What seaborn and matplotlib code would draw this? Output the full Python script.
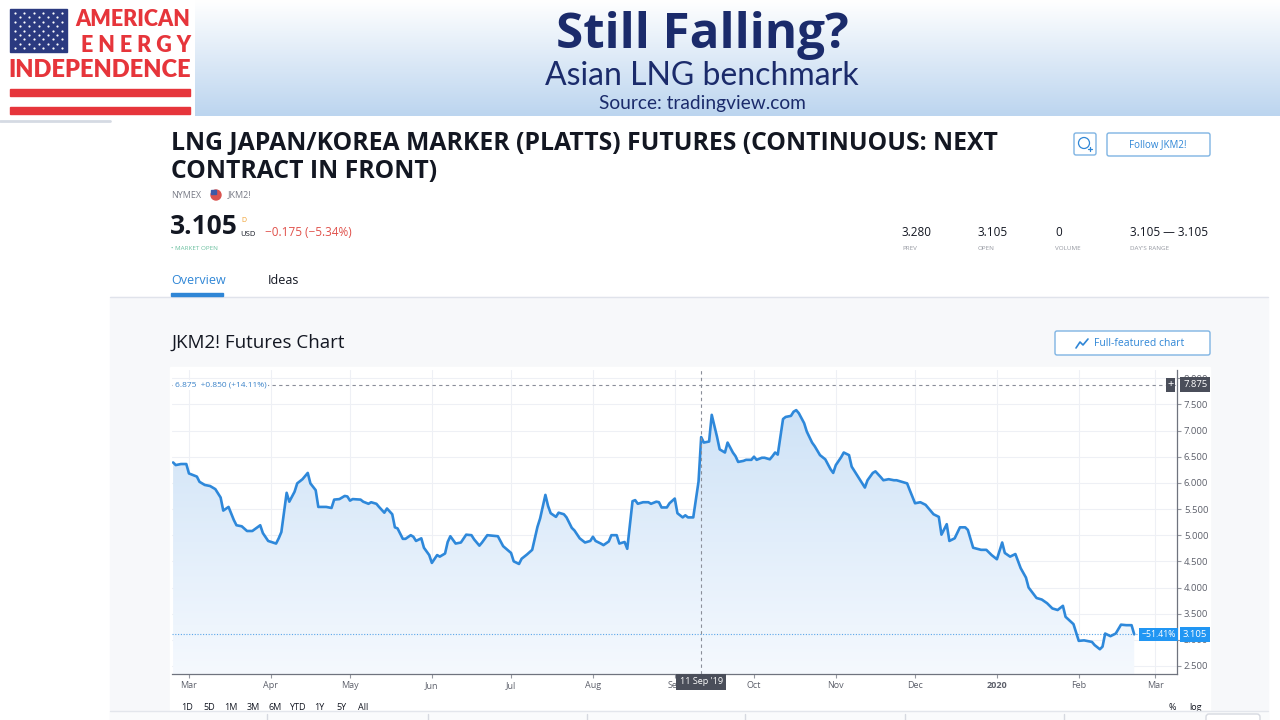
import numpy as np
import pandas as pd
import matplotlib
matplotlib.use("Agg")
import matplotlib.pyplot as plt
import matplotlib.dates as mdates
import matplotlib.patches as mpatches
from matplotlib.colors import LinearSegmentedColormap
import seaborn as sns

# JKM2! daily closes
dates = [
  "2019-02-23", "2019-02-24", "2019-02-26", "2019-02-28", "2019-03-01", "2019-03-04", "2019-03-05",
  "2019-03-07", "2019-03-09", "2019-03-11", "2019-03-13", "2019-03-14", "2019-03-16", "2019-03-18",
  "2019-03-19", "2019-03-21", "2019-03-23", "2019-03-25", "2019-03-28", "2019-03-29", "2019-03-31",
  "2019-04-03", "2019-04-04", "2019-04-05", "2019-04-07", "2019-04-08", "2019-04-10", "2019-04-11",
  "2019-04-13", "2019-04-15", "2019-04-16", "2019-04-18", "2019-04-19", "2019-04-22", "2019-04-24",
  "2019-04-25", "2019-04-27", "2019-04-29", "2019-04-30", "2019-05-01", "2019-05-02", "2019-05-05",
  "2019-05-06", "2019-05-08", "2019-05-09", "2019-05-11", "2019-05-12", "2019-05-14", "2019-05-15",
  "2019-05-17", "2019-05-18", "2019-05-19", "2019-05-21", "2019-05-22", "2019-05-24", "2019-05-25",
  "2019-05-26", "2019-05-28", "2019-05-29", "2019-05-31", "2019-06-01", "2019-06-03", "2019-06-04",
  "2019-06-06", "2019-06-07", "2019-06-08", "2019-06-10", "2019-06-12", "2019-06-14", "2019-06-16",
  "2019-06-17", "2019-06-19", "2019-06-20", "2019-06-22", "2019-06-24", "2019-06-26", "2019-06-28",
  "2019-07-01", "2019-07-02", "2019-07-04", "2019-07-05", "2019-07-07", "2019-07-09", "2019-07-11",
  "2019-07-12", "2019-07-14", "2019-07-15", "2019-07-16", "2019-07-18", "2019-07-19", "2019-07-21",
  "2019-07-22", "2019-07-24", "2019-07-25", "2019-07-27", "2019-07-29", "2019-07-31", "2019-08-01",
  "2019-08-02", "2019-08-04", "2019-08-05", "2019-08-07", "2019-08-08", "2019-08-10", "2019-08-11",
  "2019-08-13", "2019-08-14", "2019-08-16", "2019-08-17", "2019-08-18", "2019-08-20", "2019-08-22",
  "2019-08-23", "2019-08-25", "2019-08-26", "2019-08-27", "2019-08-29", "2019-08-30", "2019-09-01",
  "2019-09-02", "2019-09-04", "2019-09-05", "2019-09-06", "2019-09-08", "2019-09-10", "2019-09-11",
  "2019-09-12", "2019-09-14", "2019-09-15", "2019-09-17", "2019-09-18", "2019-09-20", "2019-09-21",
  "2019-09-23", "2019-09-24", "2019-09-25", "2019-09-27", "2019-09-28", "2019-09-30", "2019-10-01",
  "2019-10-02", "2019-10-04", "2019-10-05", "2019-10-07", "2019-10-08", "2019-10-09", "2019-10-10",
  "2019-10-12", "2019-10-13", "2019-10-15", "2019-10-16", "2019-10-17", "2019-10-18", "2019-10-20",
  "2019-10-21", "2019-10-23", "2019-10-24", "2019-10-26", "2019-10-27", "2019-10-28", "2019-10-30",
  "2019-10-31", "2019-11-01", "2019-11-03", "2019-11-04", "2019-11-06", "2019-11-07", "2019-11-09",
  "2019-11-12", "2019-11-13", "2019-11-15", "2019-11-16", "2019-11-18", "2019-11-19", "2019-11-21",
  "2019-11-23", "2019-11-24", "2019-11-26", "2019-11-28", "2019-11-29", "2019-12-01", "2019-12-03",
  "2019-12-05", "2019-12-07", "2019-12-08", "2019-12-10", "2019-12-11", "2019-12-13", "2019-12-14",
  "2019-12-16", "2019-12-18", "2019-12-20", "2019-12-21", "2019-12-23", "2019-12-26", "2019-12-28",
  "2019-12-30", "2020-01-01", "2020-01-03", "2020-01-04", "2020-01-06", "2020-01-08", "2020-01-10",
  "2020-01-12", "2020-01-13", "2020-01-16", "2020-01-18", "2020-01-20", "2020-01-22", "2020-01-24",
  "2020-01-26", "2020-01-27", "2020-01-30", "2020-02-01", "2020-02-03", "2020-02-06", "2020-02-07",
  "2020-02-09", "2020-02-10", "2020-02-11", "2020-02-13", "2020-02-15", "2020-02-17", "2020-02-19",
  "2020-02-21", "2020-02-22",
]
prices = [
  6.39, 6.34, 6.36, 6.36, 6.18, 6.12, 6.02,
  5.96, 5.94, 5.88, 5.72, 5.47, 5.54, 5.29,
  5.19, 5.17, 5.08, 5.08, 5.19, 5.04, 4.89,
  4.84, 4.94, 5.06, 5.81, 5.64, 5.83, 5.99,
  6.07, 6.19, 5.99, 5.86, 5.54, 5.54, 5.52,
  5.68, 5.69, 5.75, 5.74, 5.66, 5.69, 5.68,
  5.64, 5.60, 5.63, 5.60, 5.54, 5.43, 5.51,
  5.40, 5.15, 5.13, 4.93, 4.93, 5.00, 4.97,
  4.89, 4.94, 4.76, 4.62, 4.47, 4.62, 4.59,
  4.65, 4.87, 4.98, 4.84, 4.86, 5.01, 5.00,
  4.92, 4.80, 4.86, 5.00, 4.99, 4.98, 4.79,
  4.66, 4.50, 4.45, 4.55, 4.63, 4.72, 5.16,
  5.32, 5.77, 5.56, 5.42, 5.35, 5.43, 5.40,
  5.34, 5.14, 5.09, 4.94, 4.86, 4.89, 4.97,
  4.89, 4.84, 4.81, 4.88, 5.00, 5.00, 4.84,
  4.87, 4.74, 5.65, 5.67, 5.60, 5.63, 5.63,
  5.60, 5.64, 5.63, 5.53, 5.53, 5.61, 5.70,
  5.42, 5.34, 5.38, 5.34, 5.34, 6.025, 6.875,
  6.77, 6.79, 7.30, 6.88, 6.64, 6.58, 6.77,
  6.58, 6.51, 6.40, 6.42, 6.44, 6.44, 6.50,
  6.44, 6.48, 6.48, 6.45, 6.51, 6.58, 6.54,
  7.22, 7.26, 7.28, 7.36, 7.39, 7.33, 7.14,
  6.98, 6.77, 6.70, 6.53, 6.49, 6.45, 6.26,
  6.19, 6.34, 6.49, 6.58, 6.53, 6.31, 6.15,
  5.91, 6.05, 6.19, 6.22, 6.11, 6.05, 6.07,
  6.05, 6.05, 6.02, 5.99, 5.86, 5.61, 5.63,
  5.58, 5.46, 5.40, 5.35, 5.01, 5.21, 4.89,
  4.94, 5.15, 5.15, 5.10, 4.76, 4.72, 4.72,
  4.62, 4.54, 4.86, 4.66, 4.59, 4.64, 4.37,
  4.19, 4.00, 3.80, 3.77, 3.70, 3.60, 3.57,
  3.65, 3.44, 3.30, 2.98, 2.99, 2.96, 2.90,
  2.82, 2.87, 3.12, 3.07, 3.12, 3.29, 3.28,
  3.28, 3.105,
]

month_ticks = ["2019-03-01", "2019-04-01", "2019-05-01", "2019-06-01", "2019-07-01", "2019-08-01",
               "2019-09-01", "2019-10-01", "2019-11-01", "2019-12-01", "2020-01-01", "2020-02-01",
               "2020-03-01"]
month_labels = ["Mar", "Apr", "May", "Jun", "Jul", "Aug", "Sep", "Oct", "Nov", "Dec", "2020", "Feb", "Mar"]
price_ticks = [2.5, 3.0, 3.5, 4.0, 4.5, 5.0, 5.5, 6.0, 6.5, 7.0, 7.5, 8.0]

cross_date = "2019-09-11"
cross_level = 7.875
last_price = 3.105
legend_text = "6.875  +0.850 (+14.11%)"
change_pct = "\u221251.41%"

stats_values = ["3.280", "3.105", "0", "3.105 \u2014 3.105"]
stats_labels = ["PREV", "OPEN", "VOLUME", "DAY'S RANGE"]
range_buttons = ["1D", "5D", "1M", "3M", "6M", "YTD", "1Y", "5Y", "All"]

df = pd.DataFrame({"date": pd.to_datetime(dates), "price": prices})

sns.set_theme(style="white")
plt.rcParams["font.family"] = ["Open Sans", "DejaVu Sans"]

BLUE = "#2f86d6"
DARK = "#131722"
GREY = "#787b86"
NAVY = "#1b2b6b"
RED = "#e6353b"
LOGO_FONT = ["Lato", "DejaVu Sans"]

fig = plt.figure(figsize=(12.8, 7.2), dpi=100)

# page layer in pixel coordinates
bg = fig.add_axes([0, 0, 1, 1])
bg.set_xlim(0, 1280)
bg.set_ylim(720, 0)
bg.axis("off")

grad = np.linspace(0, 1, 200).reshape(-1, 1)
banner_cmap = LinearSegmentedColormap.from_list("banner", ["#ffffff", "#bcd5ef"])
bg.imshow(grad, extent=(195, 1280, 116, 0), cmap=banner_cmap, aspect="auto", zorder=0)

# logo
bg.add_patch(mpatches.Rectangle((10, 9), 57, 43, color="#2b3a80", zorder=2))
sx, sy = np.meshgrid(np.linspace(15, 62, 6), np.linspace(13, 48, 5))
bg.scatter(sx.ravel(), sy.ravel(), s=2.5, color="white", zorder=3, linewidths=0)
sx2, sy2 = np.meshgrid(np.linspace(19.7, 57.3, 5), np.linspace(17.4, 43.6, 4))
bg.scatter(sx2.ravel(), sy2.ravel(), s=2.5, color="white", zorder=3, linewidths=0)
bg.text(190, 19, "AMERICAN", ha="right", va="center", color=RED, fontsize=15.5,
        fontweight="heavy", family=LOGO_FONT, zorder=3)
bg.text(191, 45, "E N E R G Y", ha="right", va="center", color=RED, fontsize=15.5,
        fontweight="heavy", family=LOGO_FONT, zorder=3)
bg.text(100, 70, "INDEPENDENCE", ha="center", va="center", color=RED, fontsize=17,
        fontweight="heavy", family=LOGO_FONT, zorder=3)
bg.add_patch(mpatches.Rectangle((10, 89), 180, 7, color=RED, zorder=2))
bg.add_patch(mpatches.Rectangle((10, 107), 180, 7, color=RED, zorder=2))
bg.plot([0, 110], [121, 121], color="#d5dae3", lw=2, zorder=2)

# banner titles
bg.text(702, 35, "Still Falling?", ha="center", va="center", color=NAVY, fontsize=35.5,
        fontweight="bold", family=["Open Sans", "DejaVu Sans"], zorder=3)
bg.text(702, 76, "Asian LNG benchmark", ha="center", va="center", color=NAVY, fontsize=23,
        family=LOGO_FONT, zorder=3)
bg.text(702, 103, "Source: tradingview.com", ha="center", va="center", color=NAVY, fontsize=13.8,
        family=LOGO_FONT, zorder=3)

# symbol header
bg.text(171, 143, "LNG JAPAN/KOREA MARKER (PLATTS) FUTURES (CONTINUOUS: NEXT", ha="left", va="center",
        color=DARK, fontsize=17.8, fontweight="bold", zorder=3)
bg.text(171, 171, "CONTRACT IN FRONT)", ha="left", va="center", color=DARK, fontsize=17.8,
        fontweight="bold", zorder=3)
bg.text(171, 195, "NYMEX", ha="left", va="center", color=GREY, fontsize=6.5, zorder=3)
bg.add_patch(mpatches.Circle((216, 195), 5, color="#d9534f", zorder=3))
bg.add_patch(mpatches.Rectangle((211, 190), 5, 4, color="#3b5aa8", zorder=4))
bg.text(228, 195, "JKM2!", ha="left", va="center", color=GREY, fontsize=6.5, zorder=3)
bg.text(170, 227, "3.105", ha="left", va="center", color=DARK, fontsize=19, fontweight="bold", zorder=3)
bg.text(241, 220, "D", ha="left", va="center", color="#f0a030", fontsize=5, zorder=3)
bg.text(240, 234, "USD", ha="left", va="center", color=DARK, fontsize=5.5, zorder=3)
bg.text(265, 233, "\u22120.175 (\u22125.34%)", ha="left", va="center", color="#e0504a", fontsize=8.5, zorder=3)
bg.text(171, 248, "\u2022 MARKET OPEN", ha="left", va="center", color="#6cc0a0", fontsize=4.5, zorder=3)
for xv, val, lab in zip([902, 978, 1055, 1130], stats_values, stats_labels):
  bg.text(xv, 232, val, ha="left", va="center", color=DARK, fontsize=8.5, zorder=3)
  bg.text(xv, 248, lab, ha="left", va="center", color="#9598a1", fontsize=4.5, zorder=3)

# alert button (clock icon drawn as shapes)
bg.add_patch(mpatches.FancyBboxPatch((1074, 133), 22, 22, boxstyle="round,pad=0,rounding_size=2",
                                     fc="white", ec="#7fb4e3", lw=1, zorder=3))
bg.add_patch(mpatches.Circle((1084, 143), 5.5, fc="none", ec=BLUE, lw=0.9, zorder=4))
bg.plot([1088, 1092], [149, 149], color=BLUE, lw=0.9, zorder=5)
bg.plot([1090, 1090], [147, 151], color=BLUE, lw=0.9, zorder=5)
bg.add_patch(mpatches.FancyBboxPatch((1107, 133), 103, 23, boxstyle="round,pad=0,rounding_size=2",
                                     fc="white", ec="#7fb4e3", lw=1, zorder=3))
bg.text(1158, 145, "Follow JKM2!", ha="center", va="center", color=BLUE, fontsize=7, zorder=4)

bg.text(171, 280, "Overview", ha="left", va="center", color=BLUE, fontsize=9, zorder=3)
bg.text(268, 280, "Ideas", ha="left", va="center", color=DARK, fontsize=9, zorder=3)
bg.add_patch(mpatches.Rectangle((171, 293), 52, 3, color=BLUE, zorder=4))

# chart section
bg.add_patch(mpatches.Rectangle((110, 297), 1158, 423, color="#f7f8fa", zorder=1))
bg.plot([110, 1268], [297, 297], color="#e0e3eb", lw=1, zorder=2)
bg.text(171, 343, "JKM2! Futures Chart", ha="left", va="center", color=DARK, fontsize=13.5, zorder=3)
bg.add_patch(mpatches.FancyBboxPatch((1055, 331), 155, 24, boxstyle="round,pad=0,rounding_size=2",
                                     fc="white", ec="#7fb4e3", lw=1, zorder=3))
bg.plot([1076, 1080, 1083, 1088], [348, 342, 345, 339], color=BLUE, lw=1.2, zorder=4)
bg.text(1094, 343, "Full-featured chart", ha="left", va="center", color=BLUE, fontsize=7.5, zorder=4)
bg.add_patch(mpatches.Rectangle((170, 367), 1040, 344, color="white", zorder=2))
for xv, lab in zip(np.linspace(187, 363, len(range_buttons)), range_buttons):
  bg.text(xv, 708, lab, ha="center", va="center", color=DARK, fontsize=6.5, zorder=3)
bg.text(1172, 707, "%", ha="center", va="center", color=DARK, fontsize=6.5, zorder=3)
bg.text(1196, 708, "log", ha="center", va="center", color=DARK, fontsize=6.5, zorder=3)
bg.add_patch(mpatches.Rectangle((110, 711), 1158, 9, color="#fafbfc", zorder=5))
bg.plot([110, 1268], [711, 711], color="#e3e6ec", lw=1, zorder=6)
for xv in [267, 428, 587, 745, 905, 1064]:
  bg.plot([xv, xv], [714, 720], color="#d6d9e0", lw=1, zorder=6)
bg.add_patch(mpatches.FancyBboxPatch((1206, 714), 54, 12, boxstyle="round,pad=0,rounding_size=3",
                                     fc="white", ec="#d6d9e0", lw=1, zorder=6))

# price chart
ax = fig.add_axes([172 / 1280, 1 - 674 / 720, 1005 / 1280, 304 / 720])
ax.set_facecolor("white")
ymin, ymax = 2.347, 8.157
xmin, xmax = pd.Timestamp("2019-02-22 14:00"), pd.Timestamp("2020-03-09 05:00")

poly = ax.fill_between(df["date"], df["price"], ymin, color="none", lw=0)
fill_cmap = LinearSegmentedColormap.from_list("fill", ["#f5f9fe", "#cfe3f7"])
im = ax.imshow(grad, extent=(mdates.date2num(xmin), mdates.date2num(xmax), ymin, df["price"].max()),
               origin="lower", aspect="auto", cmap=fill_cmap, zorder=1)
im.set_clip_path(poly.get_paths()[0], transform=ax.transData)

sns.lineplot(data=df, x="date", y="price", ax=ax, color="#2e88da", linewidth=1.9, zorder=3)

ax.set_xlim(xmin, xmax)
ax.set_ylim(ymin, ymax)
ax.set_xticks(pd.to_datetime(month_ticks))
ax.set_xticklabels(month_labels)
for lab in ax.get_xticklabels():
  if lab.get_text() == "2020":
    lab.set_fontweight("bold")
ax.set_yticks(price_ticks)
ax.set_yticklabels([f"{v:.3f}" for v in price_ticks])
ax.yaxis.tick_right()
ax.tick_params(axis="x", colors="#9598a1", labelcolor="#5d606b", labelsize=6.5, length=3, width=0.8, pad=2,
               bottom=True)
ax.tick_params(axis="y", colors="#9598a1", labelcolor="#5d606b", labelsize=6.8, length=3, width=0.8, pad=2,
               right=True, left=False)
ax.grid(True, color="#eef0f5", lw=0.8)
ax.set_xlabel("")
ax.set_ylabel("")
for side in ["top", "left"]:
  ax.spines[side].set_visible(False)
ax.spines["right"].set_color("#6f737e")
ax.spines["bottom"].set_color("#6f737e")
ax.spines["right"].set_linewidth(0.9)
ax.spines["bottom"].set_linewidth(0.9)

# last price line and labels
ax.axhline(last_price, color="#5aa6ea", lw=0.8, ls=(0, (1, 1.5)), zorder=2)
ax.text(0.9985, last_price, change_pct, transform=ax.get_yaxis_transform(), ha="right", va="center",
        color="white", fontsize=6.3, zorder=6,
        bbox=dict(boxstyle="square,pad=0.25", fc="#2196f3", ec="none"))
ax.text(1.006, last_price, f"{last_price:.3f}", transform=ax.get_yaxis_transform(), ha="left", va="center",
        color="white", fontsize=6.8, zorder=6, clip_on=False,
        bbox=dict(boxstyle="square,pad=0.3", fc="#2196f3", ec="none"))

# crosshair
cross_x = pd.Timestamp(cross_date)
ax.axvline(cross_x, color="#8a8e99", lw=0.8, ls=(0, (3, 3)), zorder=4)
ax.axhline(cross_level, color="#8a8e99", lw=0.8, ls=(0, (3, 3)), zorder=4)
ax.text(1.006, cross_level, f"{cross_level:.3f}", transform=ax.get_yaxis_transform(), ha="left", va="center",
        color="white", fontsize=6.8, zorder=7, clip_on=False,
        bbox=dict(boxstyle="square,pad=0.3", fc="#4a4e5a", ec="none"))
ax.text(0.9935, cross_level, "+", transform=ax.get_yaxis_transform(), ha="center", va="center",
        color="white", fontsize=8, zorder=7,
        bbox=dict(boxstyle="square,pad=0.15", fc="#4a4e5a", ec="none"))
ax.text(cross_x, -0.011, "11 Sep '19", transform=ax.get_xaxis_transform(), ha="center", va="top",
        color="white", fontsize=6.5, zorder=7, clip_on=False,
        bbox=dict(boxstyle="square,pad=0.35", fc="#4a4e5a", ec="none"))
ax.text(0.003, cross_level, legend_text, transform=ax.get_yaxis_transform(), ha="left", va="center",
        color="#3a82c8", fontsize=6, zorder=6,
        bbox=dict(boxstyle="square,pad=0.2", fc="white", ec="none"))

fig.savefig("out.png", dpi=100)
plt.close(fig)
